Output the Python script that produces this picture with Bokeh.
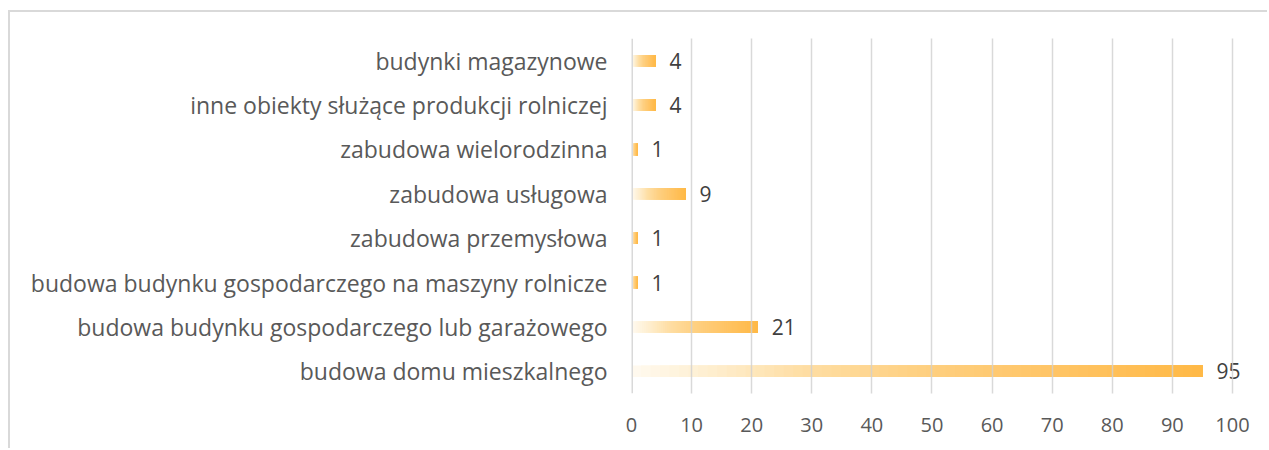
from bokeh.plotting import figure
from bokeh.models import Range1d, FactorRange, ColumnDataSource, Span, FixedTicker
from bokeh.embed import file_html
from bokeh.resources import INLINE
from bokeh.core.properties import value

categories = [
    "budynki magazynowe",
    "inne obiekty służące produkcji rolniczej",
    "zabudowa wielorodzinna",
    "zabudowa usługowa",
    "zabudowa przemysłowa",
    "budowa budynku gospodarczego na maszyny rolnicze",
    "budowa budynku gospodarczego lub garażowego",
    "budowa domu mieszkalnego",
]
counts = [4, 4, 1, 9, 1, 1, 21, 95]
x_ticks = [0, 10, 20, 30, 40, 50, 60, 70, 80, 90, 100]

# gradient stops (fraction along bar, rgb)
stops = [
    (0.00, (255, 250, 240)),
    (0.15, (254, 237, 204)),
    (0.30, (254, 222, 164)),
    (0.50, (254, 208, 130)),
    (0.75, (255, 196, 100)),
    (1.00, (255, 185, 70)),
]


def grad_color(t):
    for (t0, c0), (t1, c1) in zip(stops[:-1], stops[1:]):
        if t <= t1:
            f = (t - t0) / (t1 - t0)
            c = [round(a + (b - a) * f) for a, b in zip(c0, c1)]
            return "#%02x%02x%02x" % tuple(c)
    return "#%02x%02x%02x" % stops[-1][1]


N = 60
ys, lefts, rights, colors = [], [], [], []
for cat, v in zip(categories, counts):
    for i in range(N):
        ys.append(cat)
        lefts.append(v * i / N)
        rights.append(v)
        colors.append(grad_color((i + 0.5) / N))
seg_src = ColumnDataSource(dict(y=ys, left=lefts, right=rights, color=colors))

label_src = ColumnDataSource(dict(x=counts, y=categories, text=[str(c) for c in counts]))

W, H = 1259, 438
p = figure(
    width=W, height=H,
    y_range=FactorRange(factors=categories[::-1]),
    x_range=Range1d(0, 105),
    output_backend="svg",
    toolbar_location=None,
    min_border_left=621, min_border_right=7,
    min_border_top=26, min_border_bottom=57,
)
p.styles = {
    "margin-left": "8px", "margin-top": "10px",
    "border-left": "2px solid #D9D9D9", "border-top": "2px solid #D9D9D9",
}
p.outline_line_color = None
p.background_fill_color = "white"
p.border_fill_color = "white"

p.hbar(y="y", left="left", right="right", height=0.26, fill_color="color",
       line_color=None, source=seg_src)

p.text(x="x", y="y", text="text", source=label_src, x_offset=14,
       text_baseline="middle", text_align="left",
       text_font=value("Open Sans"), text_font_size="21px", text_color="#404040")

p.add_layout(Span(location=0, dimension="height", line_color="#D9D9D9", line_width=3))

p.xgrid.ticker = FixedTicker(ticks=x_ticks)
p.xgrid.grid_line_color = "#CFCFCF"
p.xgrid.grid_line_width = 1.5
p.xgrid.grid_line_alpha = 0.8
p.xgrid.level = "overlay"
p.ygrid.grid_line_color = None

p.xaxis.ticker = FixedTicker(ticks=x_ticks)
p.xaxis.axis_line_color = None
p.xaxis.major_tick_line_color = None
p.xaxis.minor_tick_line_color = None
p.xaxis.major_label_standoff = 18
p.xaxis.major_label_text_font = "Open Sans"
p.xaxis.major_label_text_font_size = "20px"
p.xaxis.major_label_text_color = "#595959"

p.yaxis.axis_line_color = None
p.yaxis.major_tick_line_color = None
p.yaxis.minor_tick_line_color = None
p.yaxis.major_label_standoff = 18
p.yaxis.major_label_text_font = "Open Sans"
p.yaxis.major_label_text_font_size = "23px"
p.yaxis.major_label_text_color = "#595959"

open("out.html", "w").write(file_html(p, INLINE))
